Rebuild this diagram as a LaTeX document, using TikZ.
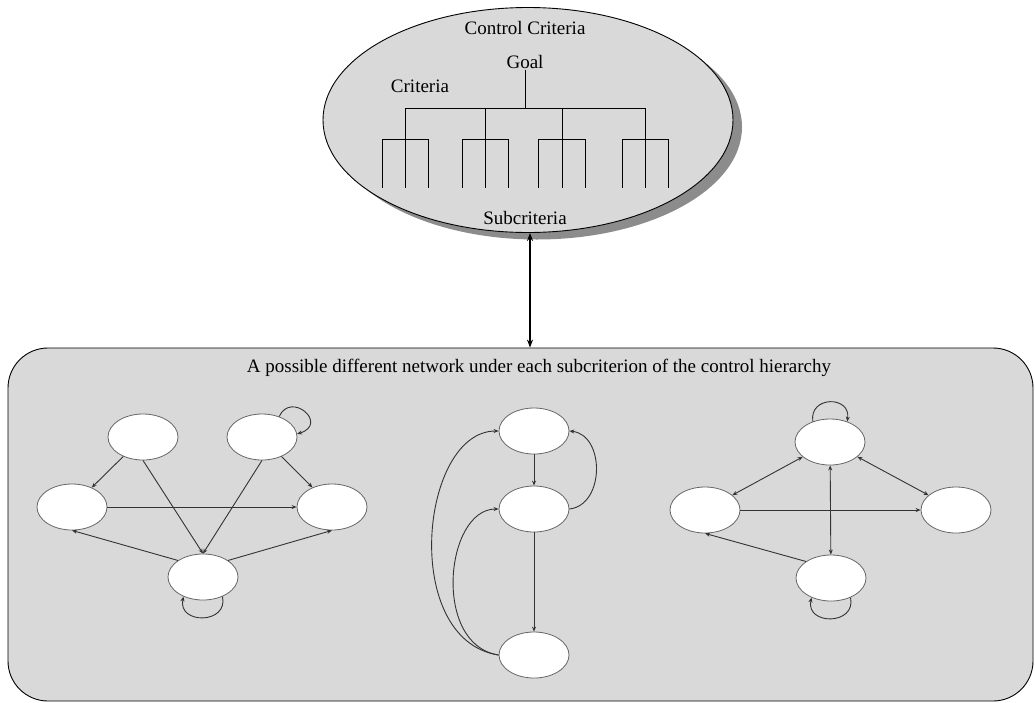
\documentclass[tikz,border=0pt]{standalone}
\usepackage{fontspec}
\setmainfont{Liberation Serif}
\usetikzlibrary{arrows.meta, shapes.geometric, shadows}

\begin{document}
\begin{tikzpicture}[
    x=1pt, y=1pt,
    font=\fontsize{19}{22}\selectfont,
    st/.style={ellipse, draw=black!60, line width=0.8pt, fill=white,
      minimum width=70pt, minimum height=46pt, inner sep=0pt},
    lbl/.style={inner sep=1pt},
    arr/.style={-{Stealth[length=5pt, width=4pt]}, line width=0.9pt, black!80},
    darr/.style={{Stealth[length=5pt, width=4pt]}-{Stealth[length=5pt, width=4pt]},
      line width=0.9pt, black!80},
    link/.style={{Stealth[length=8pt, width=6pt]}-{Stealth[length=8pt, width=6pt]},
      line width=1.2pt}
  ]
    \useasboundingbox (0,0) rectangle (1035,-702);

    % control hierarchy
    \node[ellipse, draw, line width=0.9pt, fill=black!15, minimum width=410pt,
      minimum height=225pt,
      drop shadow={shadow xshift=9pt, shadow yshift=-7pt, fill=black!45, opacity=1}]
      (ctrl) at (528,-120) {};
    \node[lbl] (title) at (525,-28) {Control Criteria};
    \node[lbl] (goal) at (525,-62) {Goal};
    \node[lbl] (crit) at (420,-86) {Criteria};
    \node[lbl] (sub) at (525,-218) {Subcriteria};
    \draw[thin] (goal.south) -- (goal.south |- 0,-108);
    \draw[thin] (405,-108) -- (645,-108);
    \foreach \cx/\sx in {405/23, 485/23, 562/23.5, 645/23} {
      \draw[thin] (\cx,-108) -- (\cx,-188);
      \draw[thin] (\cx-\sx,-188) -- (\cx-\sx,-139) -- (\cx+\sx,-139) -- (\cx+\sx,-188);
    }

    % network panel
    \node[rectangle, draw, line width=0.9pt, fill=black!15, rounded corners=40pt,
      minimum width=1025pt, minimum height=353pt] (net) at (520.5,-524.5) {};
    \node[lbl] (head) at (539,-368) {A possible different network under each subcriterion of the control hierarchy};

    \draw[link] (ctrl.south -| 530,0) -- (530,0 |- net.north);

    % left network
    \node[st] (a1) at (143,-437) {};
    \node[st] (a2) at (262,-437) {};
    \node[st] (a3) at (72,-507) {};
    \node[st] (a4) at (332,-507) {};
    \node[st] (a5) at (203,-577) {};
    \draw[arr] (a1) -- (a3);
    \draw[arr] (a1.south) -- (a5.north);
    \draw[arr] (a2.south) -- (a5.north);
    \draw[arr] (a2) -- (a4);
    \draw[arr] (a3) -- (a4);
    \draw[arr] (a5.north west) -- (a3.south);
    \draw[arr] (a5.north east) -- (a4.south);
    \draw[arr] (a2.50) .. controls +(12,26) and +(32,10) .. (a2.5);
    \draw[arr] (a5.-45) .. controls +(6,-28) and +(-6,-28) .. (a5.-135);

    % middle network
    \node[st] (b1) at (534,-431) {};
    \node[st] (b2) at (534,-509) {};
    \node[st] (b3) at (534,-655) {};
    \draw[arr] (b1) -- (b2);
    \draw[arr] (b2) -- (b3);
    \draw[arr] (b2.east) .. controls (605,-505) and (605,-435) .. (b1.east);
    \draw[arr] (b3.west) .. controls (400,-640) and (420,-431) .. (b1.west);
    \draw[arr] (b3.west) .. controls (432,-645) and (445,-509) .. (b2.west);

    % right network
    \node[st] (c1) at (830,-442) {};
    \node[st] (c2) at (705,-510) {};
    \node[st] (c3) at (956,-510) {};
    \node[st] (c4) at (831,-578) {};
    \draw[darr] (c1) -- (c2);
    \draw[darr] (c1) -- (c3);
    \draw[darr] (c1) -- (c4);
    \draw[arr] (c2) -- (c3);
    \draw[arr] (c4.north west) -- (c2.south);
    \draw[arr] (c1.130) .. controls +(-4,26) and +(4,26) .. (c1.50);
    \draw[arr] (c4.-45) .. controls +(6,-28) and +(-6,-28) .. (c4.-135);
  \end{tikzpicture}
\end{document}
